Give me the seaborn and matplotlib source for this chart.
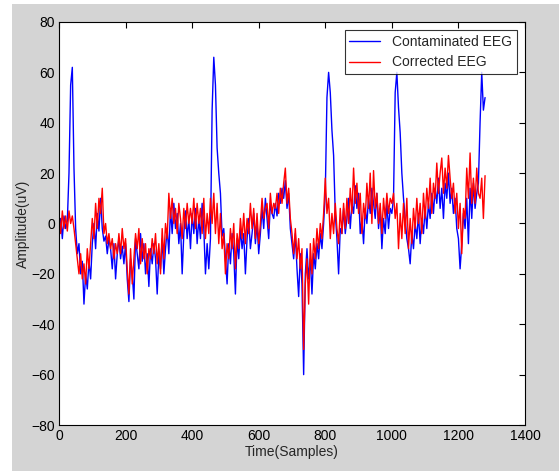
import numpy as np
import pandas as pd
import matplotlib
matplotlib.use("Agg")
import matplotlib.pyplot as plt
import seaborn as sns
from matplotlib.patches import Rectangle

sns.set_style("white")
plt.rcParams["font.family"] = ["Liberation Sans", "DejaVu Sans"]

# sample index, one value every 5 samples
samples = np.arange(0, 1281, 5)

contaminated = [
    -4, 2, -6, 3, -2, 1, 20, 55, 62, 22,
    -2, -12, -8, -20, -15, -32, -20, -26, -15, -22,
    -8, 0, -10, 4, -3, 10, -2, -7, -5, -12,
    -6, -10, -18, -8, -22, -12, -6, -14, -9, -16,
    -8, -22, -31, -14, -20, -30, -6, -12, -18, -4,
    -15, -8, -20, -12, -25, -10, -16, -8, -14, -28,
    -12, -18, -6, -20, -10, -2, -12, 6, -4, 8,
    -2, 4, -8, 0, -20, -4, 5, -6, 2, -10,
    4, -4, 6, -8, 2, -6, 8, -2, -20, -8,
    -18, -6, 45, 66, 55, 30, 20, 12, -5, -2,
    -14, -24, -8, -16, -4, -12, -28, -6, -14, -2,
    -10, -4, -20, -6, 2, -10, -4, 4, -8, 0,
    -12, -4, 6, -2, 10, 2, -6, 8, 4, 2,
    8, 3, 12, 8, 14, 10, 17, 6, 12, -2,
    -8, -14, -4, -18, -29, -12, -24, -60, -20, -10,
    -22, -14, -28, -12, -18, -8, -14, -4, -10, 0,
    12, 50, 60, 52, 37, 27, 4, -6, -20, -2,
    -4, 6, -4, 2, 10, -2, 8, 4, 15, 6,
    12, -4, 2, -8, 6, 0, 10, 4, 14, 8,
    2, 12, -2, 6, -10, 2, -4, 8, -2, 6,
    4, 10, 52, 60, 46, 36, 20, 10, 2, -6,
    -10, -16, -4, -10, 0, -6, 4, -8, 2, -4,
    6, -2, 8, 2, 12, 4, 14, 8, 18, 6,
    14, 2, 16, 10, 20, 8, 14, 4, 10, -2,
    -6, -18, -8, 4, -2, 10, -8, 14, 2, 16,
    6, 12, 16, 40, 60, 45, 50,
]

corrected = [
    4, -4, 5, -2, 3, -3, 5, 0, 3, -2,
    -8, -14, -20, -12, -22, -16, -24, -10, -18, -8,
    2, -6, 8, -2, 10, 4, 14, -4, 0, -8,
    -4, -10, -6, -14, -8, -12, -4, -12, -2, -10,
    -6, -18, -28, -10, -24, -14, -4, -10, -2, -16,
    -6, -14, -8, -20, -10, -14, -6, -12, -4, -16,
    -8, -20, -2, -14, 0, -6, 12, 2, 10, 0,
    6, -4, 8, 2, -6, 6, -2, 8, 0, 6,
    0, 10, -2, 8, 0, 6, -4, 10, -6, 4,
    -4, 10, 0, 12, -4, 8, -8, 4, -10, -4,
    -20, -8, -14, -2, -10, 0, -18, -4, -10, 2,
    -6, 4, -8, 2, -4, 8, -2, 6, -6, 4,
    -8, 0, 10, 2, 6, 8, -2, 12, 4, 8,
    6, 12, 4, 14, 8, 16, 22, 8, 14, 2,
    -4, -12, -2, -14, -6, -18, -10, -50, -24, -14,
    -32, -8, -20, -6, -14, -2, -10, 0, -6, 4,
    18, 4, 10, -6, 4, -4, 8, -2, -8, 6,
    -4, 8, -2, 10, 0, 14, 4, 22, 8, 16,
    4, 12, -4, 8, 2, 16, 6, 20, 0, 21,
    6, 12, 0, 8, -4, 10, 2, 12, 4, 10,
    8, 12, 2, 8, -10, 4, -6, 8, -4, 10,
    -10, 2, -8, 6, -2, 10, 0, 8, -4, 12,
    2, 14, 6, 18, 4, 16, 10, 24, 12, 20,
    26, 12, 22, 14, 27, 18, 10, 16, 4, 12,
    -2, 8, -12, 6, 2, 22, 10, 28, 8, 18,
    8, 22, 12, 10, 18, 2, 19,
]

df = pd.DataFrame({"sample": samples, "contaminated": contaminated, "corrected": corrected})

fig = plt.figure(figsize=(5.59, 4.73), dpi=100)
fig.patch.set_facecolor("white")
fig.patches.append(Rectangle((12 / 559, 2 / 473), 547 / 559, 467 / 473,
                             transform=fig.transFigure, facecolor="#d4d4d4",
                             edgecolor="none", zorder=-10))
ax = fig.add_axes([59 / 559, 1 - 425 / 473, 466 / 559, 403 / 473])
ax.set_facecolor("white")

sns.lineplot(data=df, x="sample", y="contaminated", color="blue", lw=1.0,
             label="Contaminated EEG", ax=ax)
sns.lineplot(data=df, x="sample", y="corrected", color="red", lw=1.0,
             label="Corrected EEG", ax=ax)

ax.set_xlim(0, 1400)
ax.set_ylim(-80, 80)
ax.set_xticks(np.arange(0, 1401, 200))
ax.set_yticks(np.arange(-80, 81, 20))
ax.tick_params(direction="in", top=True, right=True, length=4, width=0.8,
               labelsize=10, colors="black", pad=3)
for s in ax.spines.values():
    s.set_color("black")
    s.set_linewidth(0.8)
ax.set_xlabel("Time(Samples)", fontsize=10, labelpad=1)
ax.set_ylabel("Amplitude(uV)", fontsize=10, labelpad=1)

leg = ax.legend(loc="upper right", fontsize=10, frameon=True, fancybox=False,
                borderaxespad=0.6, handlelength=2.2, borderpad=0.3,
                labelspacing=0.5, handletextpad=0.9)
leg.get_frame().set_edgecolor("black")
leg.get_frame().set_linewidth(0.8)

fig.savefig("out.png", dpi=100)
